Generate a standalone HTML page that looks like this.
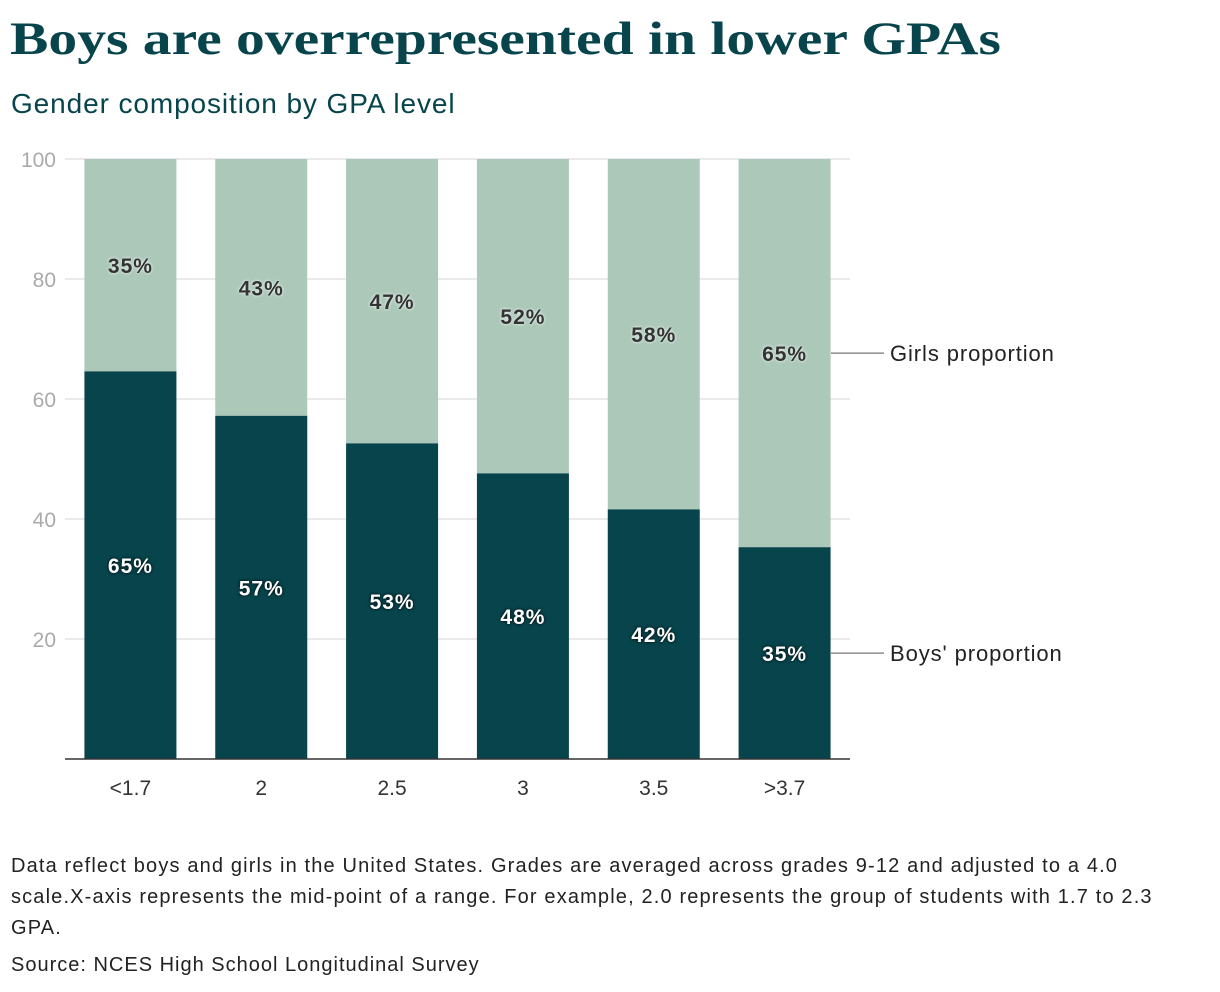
<!DOCTYPE html>
<html><head><meta charset="utf-8"><style>
body{margin:0;background:#fff;width:1220px;height:992px;overflow:hidden;position:relative;font-family:"Liberation Sans",sans-serif}
#title{position:absolute;left:10px;top:12px;font-family:"Liberation Serif",serif;font-weight:bold;font-size:47px;color:#07444c;margin:0;white-space:nowrap;transform:scaleX(1.225);transform-origin:left top}
#sub{position:absolute;left:11px;top:88px;font-size:28px;color:#07444c;letter-spacing:0.9px}
#notes{position:absolute;left:11px;top:851px;width:1200px;font-size:20px;line-height:31px;color:#222;letter-spacing:1.15px;white-space:nowrap}
#src{position:absolute;left:11px;top:954px;font-size:20px;color:#222;letter-spacing:1px}
svg{position:absolute;left:0;top:0}
</style></head><body>
<h1 id="title">Boys are overrepresented in lower GPAs</h1>
<div id="sub">Gender composition by GPA level</div>
<svg id="chart" width="1220" height="992"></svg>
<div id="notes">Data reflect boys and girls in the United States. Grades are averaged across grades 9-12 and adjusted to a 4.0<br>scale.X-axis represents the mid-point of a range. For example, 2.0 represents the group of students with 1.7 to 2.3<br>GPA.</div>
<div id="src">Source: NCES High School Longitudinal Survey</div>
<script>
const categories=["<1.7","2","2.5","3","3.5",">3.7"];
const boys=[64.6,57.2,52.6,47.6,41.6,35.3];
const yTicks=[20,40,60,80,100];
const NS="http://www.w3.org/2000/svg";
const svg=document.getElementById('chart');
const x0=65,x1=850,yb=759,yt=159;
const band=(x1-x0)/categories.length,bw=92;
const y=v=>yb-(v/100)*(yb-yt);
const xb=i=>x0+band*i+(band-bw)/2;
function mk(t,a){const e=document.createElementNS(NS,t);for(const k in a)e.setAttribute(k,a[k]);svg.appendChild(e);return e;}
yTicks.forEach(t=>{
 const g=mk('line',{x1:x0,x2:x1,y1:y(t),y2:y(t),stroke:'#e4e4e4','stroke-width':1.5});
 
 
 const l=mk('text',{x:56,y:y(t)+8,'text-anchor':'end','font-size':21,fill:'#aaa'});l.textContent=t;
 
 
});
categories.forEach((c,i)=>{
 const b=boys[i],gl=100-b,x=xb(i);
 const r1=mk('rect',{x:x,y:y(100),width:bw,height:y(b)-y(100),fill:'#abc8b9'});
 
 
 const r2=mk('rect',{x:x,y:y(b),width:bw,height:yb-y(b),fill:'#07444c'});
 
 
 const t1=mk('text',{x:x+bw/2,y:(y(100)+y(b))/2+8,'text-anchor':'middle','font-size':21,'font-weight':'bold',fill:'#333','letter-spacing':1,style:'text-shadow:0 0 3px #fff'});
 t1.textContent=Math.round(gl)+'%';
 
 
 const t2=mk('text',{x:x+bw/2,y:(y(b)+yb)/2+8,'text-anchor':'middle','font-size':21,'font-weight':'bold',fill:'#fff','letter-spacing':1,style:'text-shadow:0 0 3px #000'});
 t2.textContent=Math.round(b)+'%';
 
 
 const xl=mk('text',{x:x+bw/2,y:795,'text-anchor':'middle','font-size':21,fill:'#333'});
 xl.textContent=c;
 
 
});
const ax=mk('line',{x1:x0,x2:x1,y1:yb,y2:yb,stroke:'#333','stroke-width':1.5});


const last=categories.length-1,lb=boys[last];
const gy=(y(100)+y(lb))/2,by=(y(lb)+yb)/2;
const gLine=mk('line',{x1:831,x2:884,y1:gy,y2:gy,stroke:'#777','stroke-width':1.2});


const gT=mk('text',{x:890,y:gy+8,'font-size':22,fill:'#222','letter-spacing':0.9});gT.textContent='Girls proportion';


const bLine=mk('line',{x1:831,x2:884,y1:by,y2:by,stroke:'#777','stroke-width':1.2});


const bT=mk('text',{x:890,y:by+8,'font-size':22,fill:'#222','letter-spacing':0.9});bT.textContent="Boys' proportion";


</script>
</body></html>
